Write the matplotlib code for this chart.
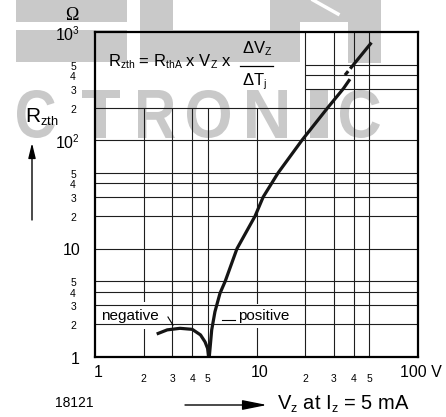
import matplotlib
matplotlib.use('Agg')
import matplotlib.pyplot as plt
from matplotlib.patches import Rectangle, PathPatch
from matplotlib.textpath import TextPath
from matplotlib.font_manager import FontProperties
from matplotlib.transforms import Affine2D, IdentityTransform, ScaledTranslation
from matplotlib.ticker import NullLocator
try:
    import matplotlib._mathtext as _mt
    _mt.SHRINK_FACTOR = 0.62
except Exception:
    pass

plt.rcParams['font.family'] = ['Liberation Sans', 'DejaVu Sans']
plt.rcParams['mathtext.fontset'] = 'custom'
plt.rcParams['mathtext.rm'] = 'Liberation Sans'
plt.rcParams['mathtext.it'] = 'Liberation Sans'
plt.rcParams['mathtext.default'] = 'regular'

# ---------------- data ----------------
neg_vz = [2.41, 2.8, 3.36, 4.0, 4.5, 4.8, 4.98, 5.05]
neg_r = [1.63, 1.78, 1.84, 1.80, 1.60, 1.38, 1.2, 1.0]

pos_vz = [5.1, 5.28, 5.53, 5.94, 6.4, 7.57, 9.8, 11.0, 13.6, 19.1, 27.6, 34.5, 37.9]
pos_r = [1.0, 1.78, 2.62, 3.87, 5.0, 10, 20, 30, 50, 100, 200, 300, 367]

upper_vz = [35.3, 51.5]
upper_r = [400, 798]

x_major = [1, 10, 100]
x_major_labels = ['1', '10', '100 V']
x_minor = [2, 3, 4, 5, 20, 30, 40, 50]
x_minor_labels = ['2', '3', '4', '5', '2', '3', '4', '5']
y_major = [1, 10, 100, 1000]
y_major_labels = ['1', '10', '10$^2$', '10$^3$']
y_minor = [2, 3, 4, 5, 20, 30, 40, 50, 200, 300, 400, 500]
y_minor_labels = ['2', '3', '4', '5', '2', '3', '4', '5', '2', '3', '4', '5']

# grid layout (partial lines in upper-left region where the formula sits)
grid_v_low = [2, 3, 4, 5, 10]
grid_v_full = [20, 30, 40, 50]
grid_h_full = [2, 3, 4, 5, 10, 20, 30, 40, 50, 100, 200]
grid_h_right = [300, 400, 500]

W, H = 446, 417
fig = plt.figure(figsize=(W / 100, H / 100), dpi=100)


def fx(px):
    return px / W


def fy(py):
    return 1 - py / H


# ---------------- watermark (behind) ----------------
wm = '#c9c9c9'
for (x0, y0, x1, y1) in [(16, 0, 127, 22), (16, 30, 127, 62), (140, 0, 173, 30),
                         (140, 30, 300, 62), (270, 0, 381, 22), (270, 22, 300, 30),
                         (348, 22, 381, 63)]:
    fig.add_artist(Rectangle((fx(x0), fy(y1)), fx(x1) - fx(x0), fy(y0) - fy(y1),
                             transform=fig.transFigure, facecolor=wm,
                             edgecolor='none', zorder=-2))
fig.add_artist(plt.Line2D([fx(313), fx(338)], [fy(0), fy(14)], transform=fig.transFigure,
                          color='white', lw=2.5, zorder=-1.5))

fp = FontProperties(family='Liberation Sans', weight='bold')
for ch, (x0, x1) in zip('CTRONIC', [(17, 55), (82, 120), (138, 175), (187, 230),
                                     (247, 287), (310, 328), (340, 380)]):
    tp = TextPath((0, 0), ch, size=1, prop=fp)
    ext = tp.get_extents()
    sx = (x1 - x0) / ext.width
    sy = 48 / ext.height
    tr = Affine2D().translate(-ext.x0, -ext.y0).scale(sx, sy).translate(x0, H - 138)
    fig.add_artist(PathPatch(tp, transform=tr + IdentityTransform(), facecolor=wm,
                             edgecolor='none', zorder=-1))

# ---------------- axes ----------------
ax = fig.add_axes([fx(95), fy(357), fx(418) - fx(95), fy(32) - fy(357)])
ax.set_xscale('log')
ax.set_yscale('log')
ax.set_xlim(1, 100)
ax.set_ylim(1, 1000)
ax.set_facecolor('none')
ax.set_xticks([])
ax.set_yticks([])
ax.xaxis.set_minor_locator(NullLocator())
ax.yaxis.set_minor_locator(NullLocator())
for s in ax.spines.values():
    s.set_linewidth(1.6)
    s.set_zorder(6)

gc = '#1e1e1e'
ax.vlines(grid_v_low, 1, 200, color=gc, lw=0.8, zorder=1)
ax.vlines(grid_v_full, 1, 1000, color=gc, lw=0.8, zorder=1)
ax.hlines(grid_h_full, 1, 100, color=gc, lw=0.8, zorder=3)
ax.hlines(grid_h_right, 20, 100, color=gc, lw=0.8, zorder=3)

cc = '#151515'
ax.plot(neg_vz, neg_r, color=cc, lw=2.3, solid_capstyle='butt', zorder=4)
ax.plot(pos_vz, pos_r, color=cc, lw=2.3, solid_capstyle='butt', zorder=4)
ln, = ax.plot(upper_vz, upper_r, color=cc, lw=2.3, solid_capstyle='butt', zorder=4)
ln.set_dashes((1.6, 1.0, 40, 0.01))

# curve labels
ax.text(1.09, 2.2, 'negative', fontsize=11, va='baseline', ha='left', zorder=2,
        bbox=dict(boxstyle='square,pad=0.42', facecolor='white', edgecolor='none'))
ax.text(7.68, 2.2, 'positive', fontsize=11, va='baseline', ha='left', zorder=2,
        bbox=dict(boxstyle='square,pad=0.35', facecolor='white', edgecolor='none'))
ax.plot([2.83, 3.04], [2.34, 1.97], color='k', lw=0.8, zorder=4)
ax.plot([6.11, 7.36], [2.2, 2.2], color='k', lw=0.8, zorder=4)

# tick labels
xtr = ax.get_xaxis_transform()
ytr = ax.get_yaxis_transform()
for v, lab in zip(x_major, x_major_labels):
    if lab.endswith('V'):
        ax.text(v, 0, lab, transform=xtr + ScaledTranslation(-18 / 100, -8 / 100, fig.dpi_scale_trans),
                ha='left', va='top', fontsize=11.5)
    else:
        ax.text(v, 0, lab, transform=xtr + ScaledTranslation(3 / 100, -8 / 100, fig.dpi_scale_trans),
                ha='center', va='top', fontsize=11.5)
for v, lab in zip(x_minor, x_minor_labels):
    ax.text(v, 0, lab, transform=xtr + ScaledTranslation(0, -17 / 100, fig.dpi_scale_trans),
            ha='center', va='top', fontsize=7.5)
for v, lab in zip(y_major, y_major_labels):
    ax.text(0, v, lab, transform=ytr + ScaledTranslation(-15 / 100, -2 / 100, fig.dpi_scale_trans),
            ha='right', va='center', fontsize=11.5)
for v, lab in zip(y_minor, y_minor_labels):
    ax.text(0, v, lab, transform=ytr + ScaledTranslation(-19 / 100, -2 / 100, fig.dpi_scale_trans),
            ha='right', va='center', fontsize=7.5)

# ---------------- figure texts ----------------
fig.text(fx(72), fy(15), 'Ω', fontsize=13, ha='center', va='center',
         family=['Liberation Serif', 'DejaVu Serif'])
fig.text(fx(108), fy(66.7), 'R$_{zth}$ = R$_{thA}$ x V$_{Z}$ x', fontsize=12, va='baseline')
fig.text(fx(257), fy(53), 'ΔV$_{Z}$', fontsize=12, va='baseline', ha='center')
fig.text(fx(255), fy(85), 'ΔT$_{j}$', fontsize=12, va='baseline', ha='center')
fig.add_artist(plt.Line2D([fx(240), fx(273)], [fy(66), fy(66)], transform=fig.transFigure,
                          color='k', lw=0.9))

fig.text(fx(25), fy(123), 'R$_{zth}$', fontsize=15, va='baseline', ha='left')
fig.text(fx(277), fy(410), 'V$_{z}$ at I$_{z}$ = 5 mA', fontsize=14.5, va='baseline', ha='left')
fig.text(fx(55), fy(407), '18121', fontsize=10, va='baseline', ha='left')

fig.add_artist(matplotlib.patches.FancyArrowPatch(
    (fx(32), fy(220)), (fx(32), fy(143)), transform=fig.transFigure,
    arrowstyle='-|>,head_length=0.9,head_width=0.22', mutation_scale=10,
    color='k', lw=1.0, shrinkA=0, shrinkB=0))
fig.add_artist(matplotlib.patches.FancyArrowPatch(
    (fx(185), fy(405)), (fx(267), fy(405)), transform=fig.transFigure,
    arrowstyle='-|>,head_length=1.5,head_width=0.3', mutation_scale=10,
    color='k', lw=1.0, shrinkA=0, shrinkB=0))

fig.savefig('out.png', dpi=100)
